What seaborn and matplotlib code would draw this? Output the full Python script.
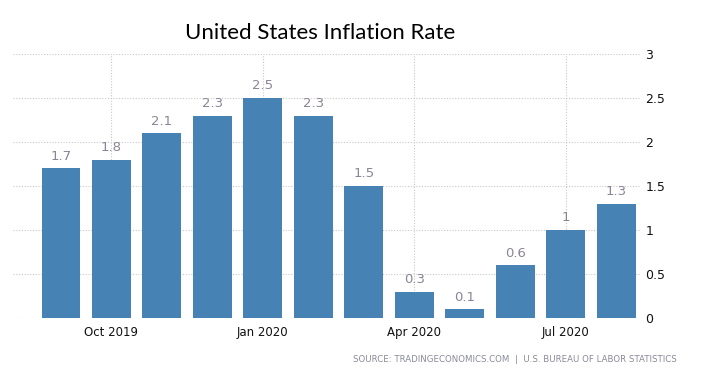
import pandas as pd
import matplotlib.pyplot as plt
import seaborn as sns

# 데이터
months = ["Sep 2019", "Oct 2019", "Nov 2019", "Dec 2019", "Jan 2020", "Feb 2020",
          "Mar 2020", "Apr 2020", "May 2020", "Jun 2020", "Jul 2020", "Aug 2020"]
inflation = [1.7, 1.8, 2.1, 2.3, 2.5, 2.3, 1.5, 0.3, 0.1, 0.6, 1.0, 1.3]
tick_months = ["Oct 2019", "Jan 2020", "Apr 2020", "Jul 2020"]
y_ticks = [0, 0.5, 1, 1.5, 2, 2.5, 3]
y_tick_labels = ["0", "0.5", "1", "1.5", "2", "2.5", "3"]

df = pd.DataFrame({"month": months, "rate": inflation})

sns.set_style("white")
plt.rcParams["font.family"] = ["DejaVu Sans"]

fig = plt.figure(figsize=(7.01, 3.73), dpi=100)
ax = fig.add_axes([13 / 701, 55 / 373, 627 / 701, 264 / 373])

sns.barplot(data=df, x="month", y="rate", color="#4682b4", width=0.77,
            saturation=1, linewidth=0, ax=ax)

# 값 레이블
labels = [("%g" % v) for v in inflation]
ax.bar_label(ax.containers[0], labels=labels, padding=4, fontsize=9.5,
             color="#8c8496")

# 축 설정
ax.set_xlim(-0.95, 11.47)
ax.set_ylim(0, 3)
ax.set_xlabel("")
ax.set_ylabel("")

tick_pos = [months.index(m) for m in tick_months]
ax.set_xticks(tick_pos)
ax.set_xticklabels(tick_months, fontsize=8.5, color="#111111")
ax.tick_params(axis="x", length=4, color="#cccccc", pad=2)

ax.yaxis.tick_right()
ax.set_yticks(y_ticks)
ax.set_yticklabels(y_tick_labels, fontsize=9, color="#111111")
ax.tick_params(axis="y", length=0, pad=4)

ax.grid(True, axis="both", linestyle=(0, (1, 1.5)), color="#c8c8c8", linewidth=0.8)
ax.set_axisbelow(True)
for s in ax.spines.values():
    s.set_visible(False)

fig.text(320 / 701, 1 - 33 / 373, "United States Inflation Rate", ha="center",
         va="center", fontsize=16, family="Lato", color="#000000")
fig.text(677 / 701, 1 - 360 / 373,
         "SOURCE: TRADINGECONOMICS.COM  |  U.S. BUREAU OF LABOR STATISTICS",
         ha="right", va="center", fontsize=6.2, color="#8a8a9a")

fig.savefig("out.png", dpi=100)
